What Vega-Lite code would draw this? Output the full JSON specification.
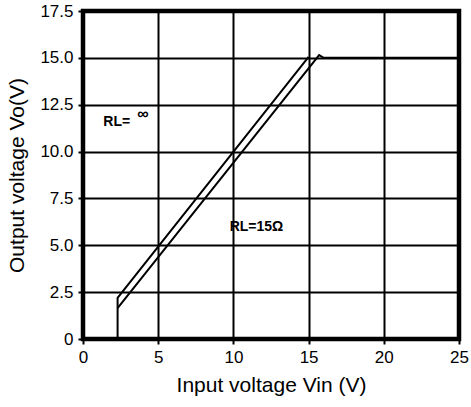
{
  "$schema": "https://vega.github.io/schema/vega-lite/v6.json",
  "width": 376,
  "height": 328,
  "autosize": {"type": "none"},
  "padding": {"left": 83, "top": 11, "right": 12, "bottom": 68},
  "config": {
    "font": "Liberation Sans",
    "view": {"stroke": "black", "strokeWidth": 4.5},
    "axis": {
      "grid": true,
      "gridColor": "black",
      "gridWidth": 2,
      "gridOpacity": 1,
      "domain": false,
      "tickColor": "black",
      "tickWidth": 2,
      "tickSize": 5,
      "labelFontSize": 17,
      "labelColor": "black",
      "labelFlush": false,
      "labelOverlap": false,
      "titleFontSize": 21,
      "titleFontWeight": "normal",
      "titleColor": "black"
    }
  },
  "layer": [
    {
      "data": {
        "values": [
          {"series": "inf", "ord": 1, "vin": 2.3, "vo": 0},
          {"series": "inf", "ord": 2, "vin": 2.3, "vo": 2.2},
          {"series": "inf", "ord": 3, "vin": 15.0, "vo": 15.05},
          {"series": "15", "ord": 1, "vin": 2.3, "vo": 1.65},
          {"series": "15", "ord": 2, "vin": 15.7, "vo": 15.15},
          {"series": "15", "ord": 3, "vin": 16.0, "vo": 15.0},
          {"series": "15", "ord": 4, "vin": 25, "vo": 15.0}
        ]
      },
      "mark": {"type": "line", "color": "black", "strokeWidth": 2},
      "encoding": {
        "x": {
          "field": "vin", "type": "quantitative",
          "scale": {"domain": [0, 25], "nice": false, "zero": false},
          "axis": {
            "values": [0, 5, 10, 15, 20, 25],
            "title": "Input voltage Vin (V)",
            "labelPadding": 5,
            "titlePadding": 9
          }
        },
        "y": {
          "field": "vo", "type": "quantitative",
          "scale": {"domain": [0, 17.5], "nice": false, "zero": false},
          "axis": {
            "values": [0, 2.5, 5, 7.5, 10, 12.5, 15, 17.5],
            "labelExpr": "datum.value == 0 ? '0' : format(datum.value, '.1f')",
            "title": "Output voltage Vo(V)",
            "labelPadding": 5,
            "titlePadding": 12
          }
        },
        "detail": {"field": "series"},
        "order": {"field": "ord"}
      }
    },
    {
      "data": {
        "values": [
          {"label": "RL=", "vin": 1.35, "vo": 11.6},
          {"label": "RL=15Ω", "vin": 9.75, "vo": 6.0}
        ]
      },
      "mark": {"type": "text", "align": "left", "baseline": "middle", "fontWeight": "bold", "fontSize": 14, "color": "black"},
      "encoding": {
        "x": {"field": "vin", "type": "quantitative"},
        "y": {"field": "vo", "type": "quantitative"},
        "text": {"field": "label"}
      }
    },
    {
      "data": {
        "values": [
          {"label": "∞", "vin": 3.6, "vo": 12.0}
        ]
      },
      "mark": {"type": "text", "align": "left", "baseline": "middle", "fontWeight": "bold", "fontSize": 16, "color": "black"},
      "encoding": {
        "x": {"field": "vin", "type": "quantitative"},
        "y": {"field": "vo", "type": "quantitative"},
        "text": {"field": "label"}
      }
    }
  ]
}
